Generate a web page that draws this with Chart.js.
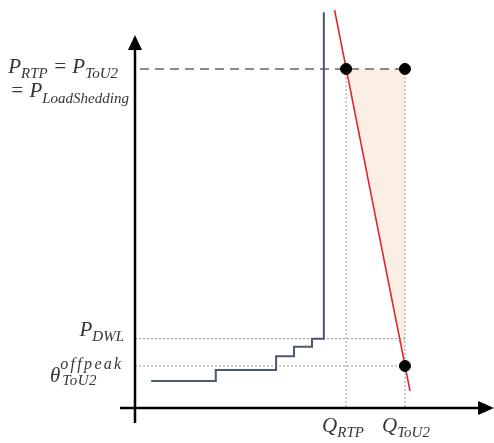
<!DOCTYPE html>
<html>
<head>
<meta charset="utf-8">
<script src="https://cdn.jsdelivr.net/npm/chart.js@4.4.0/dist/chart.umd.min.js"></script>
<style>
  html, body { margin: 0; padding: 0; background: #fff; }
  #wrap { width: 494px; height: 443px; }
</style>
</head>
<body>
<div id="wrap"><canvas id="chart"></canvas></div>
<script>
// supply curve (stepped), quantity / price
var supplyQ = [4.5, 22.5, 39.3, 44.3, 49.3, 52.6];
var supplyP = [6.6, 9.3, 12.7, 15.0, 17.0, 97.0];
// demand line
var demandQ = [55.6, 76.6];
var demandP = [97.5, 4.2];
// key levels
var qRTP = 58.8, qToU2 = 75.2;
var pRTP = 83.1, pDWL = 17.0, thetaOff = 10.3;
var dashStartQ = 1.4;

function pts(xs, ys) {
    return xs.map(function (x, i) { return { x: x, y: ys[i] }; });
}

var serif = "'Liberation Serif', 'DejaVu Serif', serif";
var textColor = "#363636";

// draws text made of parts: {t, s (size), dy (baseline shift)}
function drawRich(ctx, parts, x, y, align) {
    var w = 0;
    parts.forEach(function (p) {
        ctx.font = "italic " + p.s + "px " + serif;
        p.w = ctx.measureText(p.t).width;
        w += p.w;
    });
    var cx = align === "right" ? x - w : x;
    parts.forEach(function (p) {
        ctx.font = "italic " + p.s + "px " + serif;
        ctx.fillText(p.t, cx, y + (p.dy || 0));
        cx += p.w;
    });
}

var axesPlugin = {
    id: "axesPlugin",
    afterDatasetsDraw: function (chart) {
        var ctx = chart.ctx;
        var xs = chart.scales.x, ys = chart.scales.y;
        var x0 = xs.getPixelForValue(0), y0 = ys.getPixelForValue(0);
        ctx.save();
        ctx.strokeStyle = "#000";
        ctx.fillStyle = "#000";
        ctx.lineWidth = 2.5;
        // y axis
        ctx.beginPath();
        ctx.moveTo(x0, y0 + 15);
        ctx.lineTo(x0, 46);
        ctx.stroke();
        ctx.beginPath();
        ctx.moveTo(x0, 35);
        ctx.lineTo(x0 - 7, 50);
        ctx.lineTo(x0 + 7, 50);
        ctx.closePath();
        ctx.fill();
        // x axis
        ctx.beginPath();
        ctx.moveTo(x0 - 15, y0);
        ctx.lineTo(482, y0);
        ctx.stroke();
        ctx.beginPath();
        ctx.moveTo(494, y0);
        ctx.lineTo(478, y0 - 7);
        ctx.lineTo(478, y0 + 7);
        ctx.closePath();
        ctx.fill();

        // labels
        ctx.fillStyle = textColor;
        ctx.textBaseline = "alphabetic";
        var yR = ys.getPixelForValue(pRTP);
        drawRich(ctx, [
            { t: "P", s: 21 }, { t: "RTP", s: 15, dy: 5 },
            { t: " = P", s: 21 }, { t: "ToU2", s: 15, dy: 5 }
        ], 118, yR + 4, "right");
        drawRich(ctx, [
            { t: "= P", s: 21 }, { t: "LoadShedding", s: 15, dy: 6 }
        ], 10, yR + 28, "left");

        var yD = ys.getPixelForValue(pDWL);
        drawRich(ctx, [{ t: "P", s: 21 }, { t: "DWL", s: 15, dy: 5 }], 124, yD - 3, "right");

        var yT = ys.getPixelForValue(thetaOff);
        ctx.font = "italic 21px " + serif;
        var tw = ctx.measureText("θ").width;
        var tx = 50;
        drawRich(ctx, [{ t: "θ", s: 21 }], tx, yT + 16, "left");
        ctx.letterSpacing = "2.3px";
        drawRich(ctx, [{ t: "offpeak", s: 16 }], tx + tw, yT + 3, "left");
        ctx.letterSpacing = "0.5px";
        drawRich(ctx, [{ t: "ToU2", s: 15 }], tx + tw + 2, yT + 19, "left");
        ctx.letterSpacing = "0px";

        var qa = xs.getPixelForValue(qRTP), qb = xs.getPixelForValue(qToU2);
        drawRich(ctx, [{ t: "Q", s: 21 }, { t: "RTP", s: 15, dy: 5 }], qa - 24, y0 + 24, "left");
        drawRich(ctx, [{ t: "Q", s: 21 }, { t: "ToU2", s: 15, dy: 5 }], qb - 23, y0 + 24, "left");
        ctx.restore();
    }
};

var guide = { borderColor: "#9a9a9a", borderWidth: 1, borderDash: [2, 2], pointRadius: 0, fill: false, order: 5 };

new Chart(document.getElementById("chart"), {
    type: "scatter",
    data: {
        datasets: [
            { label: "surplus", data: pts([qRTP, qToU2], [pRTP, thetaOff]), showLine: true,
              borderWidth: 0, pointRadius: 0, backgroundColor: "#fbeee5", fill: { value: pRTP }, order: 6 },
            Object.assign({ label: "dwl", data: pts([0, qToU2], [pDWL, pDWL]), showLine: true }, guide),
            Object.assign({ label: "theta", data: pts([0, qToU2], [thetaOff, thetaOff]), showLine: true }, guide),
            Object.assign({ label: "qrtp", data: pts([qRTP, qRTP], [pRTP, 0]), showLine: true }, guide),
            Object.assign({ label: "qtou", data: pts([qToU2, qToU2], [pRTP, 0]), showLine: true }, guide),
            { label: "price", data: pts([dashStartQ, qToU2], [pRTP, pRTP]), showLine: true,
              borderColor: "#666", borderWidth: 1.6, borderDash: [9, 6], pointRadius: 0, order: 4 },
            { label: "supply", data: pts(supplyQ, supplyP), showLine: true, stepped: "before",
              borderColor: "#4a5870", borderWidth: 2, pointRadius: 0, order: 3 },
            { label: "demand", data: pts(demandQ, demandP), showLine: true,
              borderColor: "#e0262a", borderWidth: 1.6, pointRadius: 0, order: 2 },
            { label: "points", data: pts([qRTP, qToU2, qToU2], [pRTP, pRTP, thetaOff]), showLine: false,
              pointRadius: 5.5, pointBackgroundColor: "#000", pointBorderColor: "#000", order: 1 }
        ]
    },
    options: {
        responsive: true,
        maintainAspectRatio: false,
        animation: false,
        layout: { autoPadding: false, padding: { left: 135, right: 0, top: 0, bottom: 35 } },
        scales: {
            x: { type: "linear", min: 0, max: 100, display: false },
            y: { type: "linear", min: 0, max: 100, display: false }
        },
        plugins: { legend: { display: false }, tooltip: { enabled: false } }
    },
    plugins: [axesPlugin]
});
</script>
</body>
</html>
